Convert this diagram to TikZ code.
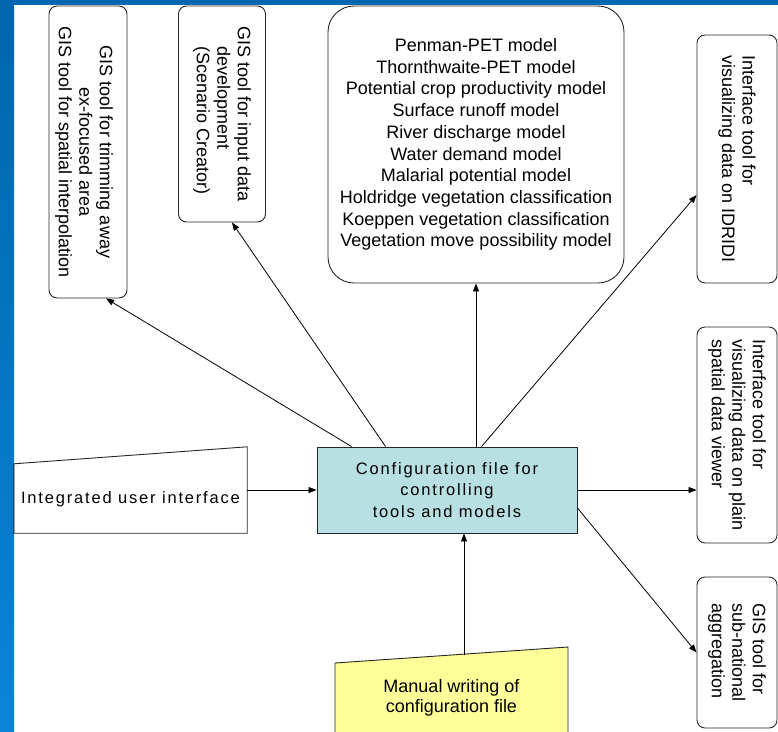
\documentclass[tikz,border=0pt]{standalone}
\usepackage{fontspec}
\setmainfont{Liberation Sans}
\newfontfamily\spacedfont[LetterSpace=11]{Liberation Sans}
\usetikzlibrary{arrows.meta}

\definecolor{slidetop}{HTML}{0066AD}
\definecolor{slidebottom}{HTML}{0B84D8}
\definecolor{cfgfill}{HTML}{B8DFE1}
\definecolor{manualfill}{HTML}{FFFF99}

\tikzset{
  toolbox/.style={draw=black!85, line width=0.9pt, rounded corners=8pt, fill=white},
  toolnote/.style={rotate=-90, font=\fontsize{18}{20.5}\selectfont, inner sep=0pt},
  link/.style={-{Triangle[length=8pt,width=6pt]}, line width=0.8pt},
}

\begin{document}
\begin{tikzpicture}[x=1pt,y=-1pt]
\useasboundingbox (0,0) rectangle (778,731);
\clip (0,0) rectangle (778,731);
\fill[top color=slidetop, bottom color=slidebottom] (0,0) rectangle (14,731); % left band
\fill[slidetop] (0,0) rectangle (778,5); % top band

% tools on top
\node[toolbox, minimum width=78pt, minimum height=292pt] (trim) at (88,152) {};
\node[toolnote, align=center] (trimtxt) at ([xshift=-4pt]trim.center) {GIS tool for trimming away\\ex-focused area\\GIS tool for spatial interpolation};
\node[toolbox, minimum width=87pt, minimum height=216pt] (input) at (222,114) {};
\node[toolnote, align=left] (inputtxt) at (input) {GIS tool for input data\\\hspace*{20pt}development\\\hspace*{20pt}(Scenario Creator)};
\node[toolbox, rounded corners=26pt, minimum width=296pt, minimum height=277pt,
      font=\fontsize{18}{21.7}\selectfont, align=center] (models) at (476,144.5)
  {Penman-PET model\\Thornthwaite-PET model\\Potential crop productivity model\\Surface runoff model\\River discharge model\\Water demand model\\Malarial potential model\\Holdridge vegetation classification\\Koeppen vegetation classification\\Vegetation move possibility model};

% tools on the right
\foreach \name/\cy/\h/\txt in {idridi/159/248/{Interface tool for\\visualizing data on IDRIDI},
    plain/435/216/{Interface tool for\\visualizing data on plain\\spatial data viewer},
    subnat/652.5/151/{GIS tool for\\sub-national\\aggregation}}{
  \node[toolbox, minimum width=80pt, minimum height=\h pt] (\name) at (737,\cy) {};
  \node[toolnote, align=left] (\name txt) at (\name) {\txt};
}

% configuration file
\node[draw=black!85, fill=cfgfill, line width=0.9pt, minimum width=260pt, minimum height=86pt,
      font=\spacedfont\fontsize{16.5}{21.5}\selectfont, align=center] (cfg) at (447,490)
  {Configuration file for\\controlling\\tools and models};

% user interface
\node[minimum width=233pt, minimum height=86pt] (ui) at (130.5,490) {};
\draw[draw=black!85, line width=0.9pt] (ui.south west) -- (ui.south east) -- (ui.north east) -- ([yshift=-17pt]ui.north west) -- cycle;
\node[font=\spacedfont\fontsize{16.5}{20}\selectfont] (uitxt) at ([yshift=-9pt]ui.center) {Integrated user interface};

% manual writing
\draw[draw=black!85, fill=manualfill, line width=0.9pt] (335,663) -- (568,647) -- (568,740) -- (335,740) -- cycle; % yellow sheet
\node[font=\fontsize{18}{20}\selectfont, align=center] (manual) at (451.5,698) {Manual writing of\\configuration file};
\coordinate (mtop) at (464,655);

% links
\draw[link] ([xshift=35pt]cfg.north west) -- ([xshift=18pt]trim.south);
\draw[link] ([xshift=69pt]cfg.north west) -- ([xshift=10pt]input.south);
\draw[link] (models.south |- cfg.north) -- (models.south);
\draw[link] ([xshift=165pt]cfg.north west) -- ([yshift=-36pt]idridi.west);
\draw[link] (cfg.east) -- (cfg.east -| plain.west);
\draw[link] ([yshift=-18pt]cfg.east) -- (subnat.west);
\draw[link] (ui.east) -- (cfg.west);
\draw[link] (mtop) -- (mtop |- cfg.south);
\end{tikzpicture}
\end{document}
